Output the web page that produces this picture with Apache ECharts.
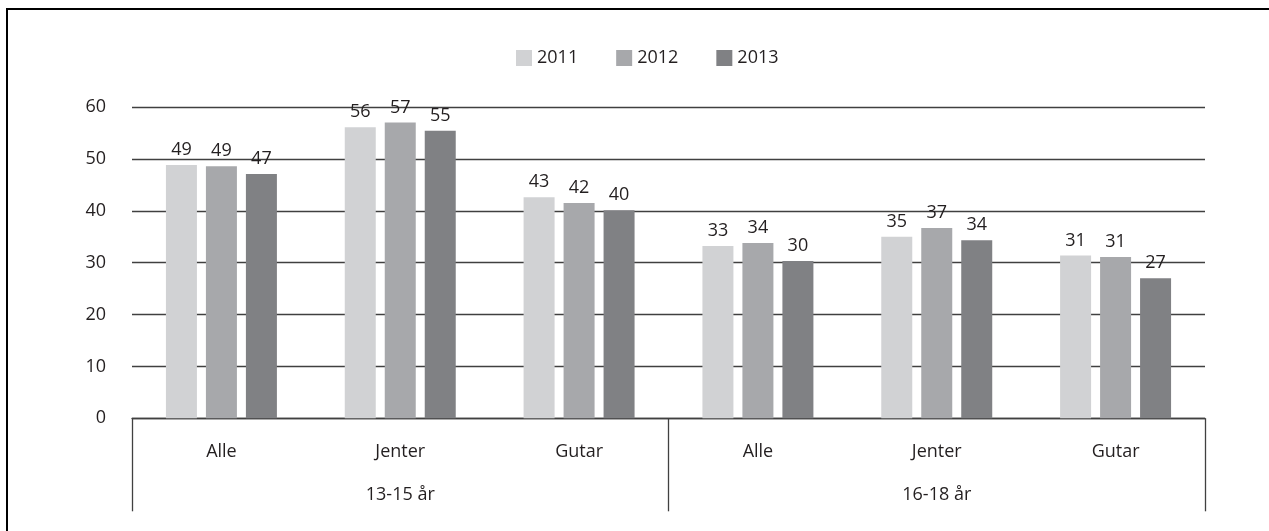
<!DOCTYPE html>
<html><head><meta charset="utf-8">
<script src="https://cdn.jsdelivr.net/npm/echarts@6/dist/echarts.min.js"></script>
<style>
html,body{margin:0;padding:0;background:#fff;overflow:hidden;}
#frame{position:absolute;left:6px;top:8px;width:1400px;height:700px;border-left:2.5px solid #000;border-top:2.5px solid #000;box-sizing:border-box;}
#c{position:absolute;left:0;top:0;width:1269px;height:531px;}
</style></head>
<body>
<div id="frame"></div>
<div id="c"></div>
<script>
const categories = ['Alle','Jenter','Gutar','Alle','Jenter','Gutar'];
const groups = ['13-15 år','16-18 år'];
const years = ['2011','2012','2013'];
const v2011 = [48.8, 56.1, 42.6, 33.2, 35.0, 31.4];
const v2012 = [48.6, 57.0, 41.5, 33.8, 36.7, 31.1];
const v2013 = [47.1, 55.4, 40.1, 30.3, 34.3, 27.0];
const colors = ['#d1d2d4','#a7a8ab','#808184'];
const yTicks = [0,10,20,30,40,50,60];

const FONT = '"Open Sans", sans-serif';
const TXT = '#231f20';
const chart = echarts.init(document.getElementById('c'), null, {renderer:'canvas'});
const mk = (name, data, i) => ({
  name, type:'bar', data, barWidth:31, barGap:'29%',
  itemStyle:{color:colors[i]},
  label:{show:true, position:'top', distance:6, color:TXT, fontFamily:FONT, fontSize:18,
    formatter:p=>Math.round(p.value)}
});
chart.setOption({
  animation:false,
  textStyle:{fontFamily:FONT, color:TXT},
  legend:{top:44, left:511, itemWidth:16, itemHeight:16, itemGap:38,
    icon:'rect', textStyle:{fontFamily:FONT, fontSize:18, color:TXT},
    data:years},
  grid:{left:132, right:64, top:107, bottom:112.7},
  xAxis:[
    {type:'category', data:categories, position:'bottom',
     axisLine:{show:true, lineStyle:{color:'#404040', width:1.3}},
     axisTick:{show:false},
     axisLabel:{margin:25, fontSize:18, color:TXT, fontFamily:FONT}},
    {type:'category', data:groups, position:'bottom', offset:0,
     axisLine:{show:false},
     axisTick:{show:true, length:93, lineStyle:{color:'#404040', width:1.3}},
     axisLabel:{margin:68, fontSize:18, color:TXT, fontFamily:FONT}}
  ],
  yAxis:{type:'value', min:yTicks[0], max:yTicks[yTicks.length-1], interval:10,
    axisLine:{show:false}, axisTick:{show:false},
    axisLabel:{margin:26, fontSize:18, color:TXT, fontFamily:FONT},
    splitLine:{lineStyle:{color:'#404040', width:1.3}}},
  series:[mk(years[0], v2011, 0), mk(years[1], v2012, 1), mk(years[2], v2013, 2)]
});
</script>
</body></html>
